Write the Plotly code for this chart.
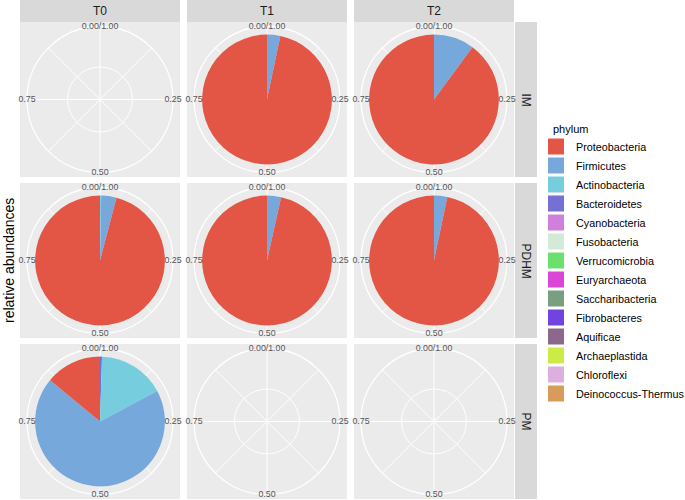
import plotly.graph_objects as go

# ---------------- data ----------------
phyla = ["Proteobacteria", "Firmicutes", "Actinobacteria", "Bacteroidetes",
         "Cyanobacteria", "Fusobacteria", "Verrucomicrobia", "Euryarchaeota",
         "Saccharibacteria", "Fibrobacteres", "Aquificae", "Archaeplastida",
         "Chloroflexi", "Deinococcus-Thermus"]
phylum_colors = ["#E35646", "#76A8DC", "#76CDDD", "#7470D4", "#D17FDD",
                 "#D4E9D8", "#6CE06F", "#DA47D7", "#789F7F", "#7144E0",
                 "#8C688B", "#CEEA47", "#DCAFDE", "#D99B5B"]

time_points = ["T0", "T1", "T2"]
milk_types = ["IM", "PDHM", "PM"]

# relative abundances per panel, aligned with `phyla` (empty list = no data)
IM_T0 = []
IM_T1 = [0.967, 0.033]
IM_T2 = [0.899, 0.101]
PDHM_T0 = [0.959, 0.038, 0.003]
PDHM_T1 = [0.965, 0.035]
PDHM_T2 = [0.967, 0.033]
PM_T0 = [0.140, 0.688, 0.167, 0.005]
PM_T1 = []
PM_T2 = []

panel_values = {
    ("IM", "T0"): IM_T0, ("IM", "T1"): IM_T1, ("IM", "T2"): IM_T2,
    ("PDHM", "T0"): PDHM_T0, ("PDHM", "T1"): PDHM_T1, ("PDHM", "T2"): PDHM_T2,
    ("PM", "T0"): PM_T0, ("PM", "T1"): PM_T1, ("PM", "T2"): PM_T2,
}

theta_breaks = [0.0, 0.25, 0.5, 0.75]
theta_labels = ["0.00/1.00", "0.25", "0.50", "0.75"]
theta_minor = [0.125, 0.375, 0.625, 0.875]

# ---------------- layout geometry (pixels) ----------------
W, H = 685, 500
col_x = [(20, 180), (187, 347), (354, 514)]
row_y = [(22, 177), (183, 338), (344, 499)]
strip_top = (0, 22)
strip_right = (515, 537)
R_PX = 73
PIE_R = 0.4
OUTER_R = 0.45
INNER_R = 0.2

PANEL_BG = "#EBEBEB"
STRIP_BG = "#D9D9D9"
FONT = "Liberation Sans, Arial, Helvetica, sans-serif"


def px(x):
    return x / W


def py(y):
    return 1 - y / H


fig = go.Figure()
shapes = []
annotations = []
layout_polars = {}

idx = 0
for ri, mt in enumerate(milk_types):
    for ci, tp in enumerate(time_points):
        idx += 1
        name = "polar" if idx == 1 else f"polar{idx}"
        x0, x1 = col_x[ci]
        y0, y1 = row_y[ri]
        cx, cy = (x0 + x1) / 2, (y0 + y1) / 2

        shapes.append(dict(type="rect", xref="paper", yref="paper",
                           x0=px(x0), x1=px(x1), y0=py(y1), y1=py(y0),
                           fillcolor=PANEL_BG, line=dict(width=0), layer="below"))

        layout_polars[name] = dict(
            domain=dict(x=[px(cx - R_PX), px(cx + R_PX)],
                        y=[py(cy + R_PX), py(cy - R_PX)]),
            bgcolor=PANEL_BG,
            angularaxis=dict(
                rotation=90, direction="clockwise", thetaunit="degrees",
                tickvals=[t * 360 for t in sorted(theta_breaks + theta_minor)],
                showticklabels=False, ticks="",
                gridcolor="white", gridwidth=1.1,
                showline=True, linecolor="white", linewidth=1.3,
                layer="below traces"),
            radialaxis=dict(
                range=[0, OUTER_R], tickvals=[INNER_R], showticklabels=False,
                ticks="", showline=False, gridcolor="white", gridwidth=1.3,
                layer="below traces"),
        )

        vals = panel_values[(mt, tp)]
        # stack: first factor level ends on top (last level starts at 0)
        cum = 0.0
        for k in reversed(range(len(vals))):
            v = vals[k]
            if v <= 0:
                continue
            fig.add_trace(go.Barpolar(
                r=[PIE_R], theta=[(cum + v / 2) * 360], width=[v * 360],
                marker=dict(color=phylum_colors[k], line=dict(width=0)),
                subplot=name, showlegend=False, name=phyla[k],
                hoverinfo="name"))
            cum += v

        fig.add_trace(go.Scatterpolar(
            r=[OUTER_R] * len(theta_breaks),
            theta=[t * 360 for t in theta_breaks],
            text=theta_labels, mode="text", textposition="middle center",
            textfont=dict(size=8.8, color="#555555", family=FONT),
            cliponaxis=False, subplot=name, showlegend=False,
            hoverinfo="skip"))

# top strips
for ci, tp in enumerate(time_points):
    x0, x1 = col_x[ci]
    shapes.append(dict(type="rect", xref="paper", yref="paper",
                       x0=px(x0), x1=px(x1), y0=py(strip_top[1]), y1=py(strip_top[0]),
                       fillcolor=STRIP_BG, line=dict(width=0), layer="below"))
    annotations.append(dict(text=tp, xref="paper", yref="paper",
                            x=px((x0 + x1) / 2), y=py(sum(strip_top) / 2),
                            showarrow=False, font=dict(size=12, color="#1A1A1A", family=FONT),
                            xanchor="center", yanchor="middle"))

# right strips
for ri, mt in enumerate(milk_types):
    y0, y1 = row_y[ri]
    shapes.append(dict(type="rect", xref="paper", yref="paper",
                       x0=px(strip_right[0]), x1=px(strip_right[1]),
                       y0=py(y1), y1=py(y0),
                       fillcolor=STRIP_BG, line=dict(width=0), layer="below"))
    annotations.append(dict(text=mt, xref="paper", yref="paper",
                            x=px(sum(strip_right) / 2), y=py((y0 + y1) / 2),
                            showarrow=False, textangle=90,
                            font=dict(size=12, color="#1A1A1A", family=FONT),
                            xanchor="center", yanchor="middle"))

# y axis title
annotations.append(dict(text="relative abundances", xref="paper", yref="paper",
                        x=px(9), y=py(261), showarrow=False, textangle=-90,
                        font=dict(size=14, color="#000000", family=FONT),
                        xanchor="center", yanchor="middle"))

# legend title
annotations.append(dict(text="phylum", xref="paper", yref="paper",
                        x=px(551), y=py(129), showarrow=False,
                        font=dict(size=11, color="#000000", family=FONT),
                        xanchor="left", yanchor="middle"))

# legend proxies
for name, col in zip(phyla, phylum_colors):
    fig.add_trace(go.Scatterpolar(
        r=[None], theta=[None], mode="markers", name=name,
        marker=dict(symbol="square", size=16, color=col, line=dict(width=0)),
        subplot="polar", showlegend=True, hoverinfo="skip"))

fig.update_layout(
    width=W, height=H,
    autosize=False,
    margin=dict(l=0, r=0, t=0, b=0, autoexpand=False),
    paper_bgcolor="white",
    font=dict(family=FONT),
    shapes=shapes, annotations=annotations,
    showlegend=True,
    legend=dict(
        x=px(536), y=py(132), xanchor="left", yanchor="top",
        font=dict(size=10.8, color="#000000", family=FONT),
        bgcolor="rgba(0,0,0,0)", itemsizing="trace",
        tracegroupgap=0),
    **layout_polars,
)

post = (
    "document.body.style.margin='0';document.body.style.padding='0';"
    "document.body.style.overflow='hidden';"
)

fig.write_html(
    "out.html",
    config={"responsive": False, "displayModeBar": False},
    post_script=post,
)
